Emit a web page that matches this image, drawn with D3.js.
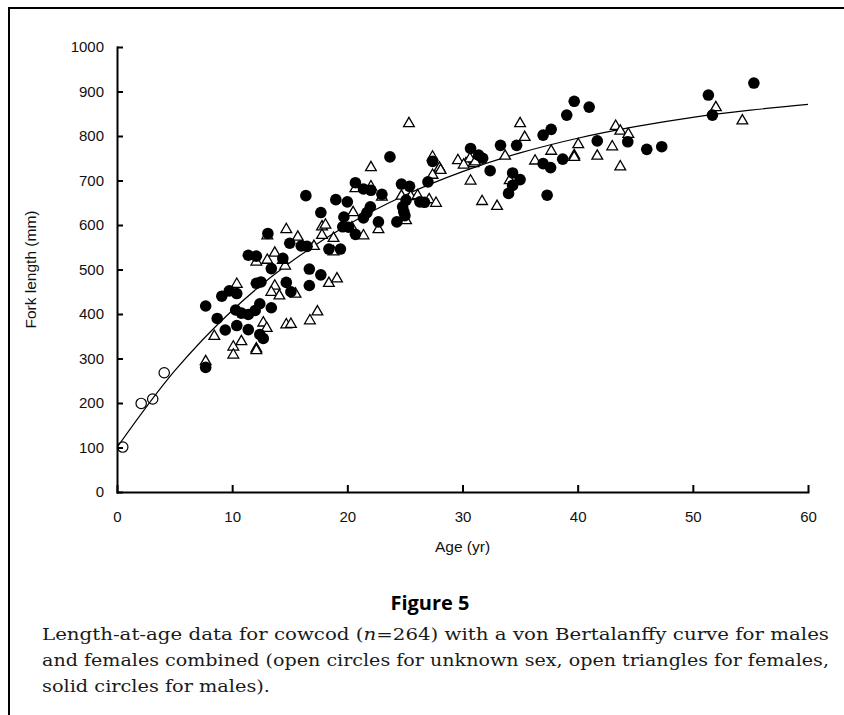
<!DOCTYPE html>
<meta charset="utf-8">
<style>
body { margin: 0; background: #fff; }
.axis path, .axis line { stroke: #000; stroke-width: 2px; }
.curve { fill: none; stroke: #000; stroke-width: 1.2px; }
</style>
<body>
<script src="https://d3js.org/d3.v7.min.js"></script>
<script>

// ---------- data ----------
// unknown sex (open circles)
var unkAge = [0.5, 2.1, 3.1, 4.1];
var unkLen = [101, 199, 209, 268];

// males (solid circles)
var maleAge = [7.7, 7.7, 8.7, 9.1, 9.75, 10.4, 9.4, 10.3, 10.4, 10.8, 11.4, 11.4, 11.4, 12.1, 12.0, 12.4, 12.1, 12.5, 12.4, 12.7,
  13.4, 13.4, 14.4, 14.7, 15.1, 15.0, 13.1, 16.0, 16.5, 16.7, 16.7, 17.7, 18.4, 19.4, 16.4, 17.7, 19.0, 20.0, 19.7, 19.6,
  20.1, 20.7, 20.7, 21.4, 22.05, 23.0, 23.7, 21.4, 21.7, 22.0, 22.7, 24.3, 25.0, 24.7, 25.4, 25.1, 24.8, 24.9, 26.3, 26.7,
  27.0, 27.4, 30.7, 31.4, 31.75, 32.4, 33.3, 34.7, 34.35, 35.0, 34.35, 34.0, 37.0, 37.65, 37.0, 37.7, 37.35, 38.7, 39.05, 39.7,
  41.0, 41.7, 44.35, 46.0, 47.3, 51.35, 51.7, 55.3];
var maleLen = [418, 280, 390, 440, 452, 446, 364, 409, 374, 402, 399, 365, 532, 530, 408, 423, 469, 472, 354, 345,
  414, 502, 525, 471, 450, 559, 581, 553, 552, 501, 464, 488, 546, 546, 666, 628, 657, 652, 618, 596,
  595, 579, 695, 681, 678, 669, 753, 616, 628, 641, 607, 607, 621, 692, 687, 656, 641, 630, 652, 651,
  697, 743, 772, 757, 750, 722, 779, 779, 717, 702, 689, 671, 738, 729, 802, 815, 667, 748, 847, 878,
  865, 789, 787, 770, 776, 892, 847, 919];

// females (open triangles)
var femAge = [7.7, 8.45, 10.4, 10.1, 10.1, 10.8, 12.1, 12.1, 12.1, 12.7, 13.0, 13.05, 13.7, 13.7, 13.4, 14.1, 14.6, 14.4, 15.5, 13.05,
  14.7, 15.7, 17.1, 14.7, 15.1, 16.75, 17.4, 18.4, 19.1, 18.8, 18.8, 17.8, 18.1, 17.8, 20.5, 20.4, 21.4, 20.7, 22.05, 22.05,
  23.0, 22.7, 25.1, 24.7, 25.5, 26.1, 27.1, 27.7, 27.4, 28.0, 28.1, 27.4, 29.6, 30.7, 30.3, 30.95, 30.65, 30.1, 31.1, 31.7,
  33.0, 33.7, 35.0, 35.4, 34.1, 36.3, 37.7, 39.7, 39.7, 40.05, 41.7, 43.0, 43.3, 43.7, 44.4, 43.7, 52.0, 54.3, 25.35];
var femLen = [293, 350, 467, 326, 308, 338, 517, 322, 318, 380, 368, 521, 537, 463, 449, 441, 508, 521, 445, 576,
  590, 573, 552, 376, 377, 385, 405, 469, 479, 540, 570, 596, 600, 577, 628, 594, 576, 682, 686, 729,
  663, 590, 610, 665, 664, 666, 657, 649, 753, 728, 723, 712, 745, 699, 738, 738, 749, 735, 742, 653,
  642, 755, 828, 797, 700, 744, 766, 756, 752, 781, 755, 776, 822, 811, 804, 731, 864, 834, 828];

// von Bertalanffy curve, read every 5 years
var curveAge = [0, 5, 10, 15, 20, 25, 30, 35, 40, 45, 50, 55, 60];
var curveLen = [100, 272, 408, 515, 600, 667, 720, 762, 795, 821, 842, 858, 871];

var xTicks = [0, 10, 20, 30, 40, 50, 60];
var yTicks = [0, 100, 200, 300, 400, 500, 600, 700, 800, 900, 1000];

// ---------- layout ----------
var margin = {top: 47, left: 117},
    width = 691,
    height = 445;

var sans = "'Liberation Sans', Arial, sans-serif";

var svg = d3.select("body").append("svg")
    .attr("width", 844)
    .attr("height", 715);

// frame round the figure
svg.append("rect")
    .attr("x", 9).attr("y", 8)
    .attr("width", 900).attr("height", 800)
    .attr("fill", "none").attr("stroke", "#000").attr("stroke-width", 2);

var g = svg.append("g")
    .attr("transform", "translate(" + margin.left + "," + margin.top + ")");

var x = d3.scaleLinear().domain([0, 60]).range([0, width]);
var y = d3.scaleLinear().domain([0, 1000]).range([height, 0]);

// axes, ticks pointing inward
var xAxis = g.append("g")
    .attr("class", "axis")
    .attr("transform", "translate(0," + height + ")")
    .call(d3.axisBottom(x).tickValues(xTicks).tickFormat(d3.format("d"))
        .tickSizeInner(-7).tickSizeOuter(0).tickPadding(19));

var yAxis = g.append("g")
    .attr("class", "axis")
    .call(d3.axisLeft(y).tickValues(yTicks).tickFormat(d3.format("d"))
        .tickSizeInner(-6).tickSizeOuter(0).tickPadding(13));

g.selectAll(".axis text")
    .style("font-family", sans)
    .style("font-size", "15px")
    .style("fill", "#111");

g.selectAll(".axis .domain").attr("stroke-linecap", "square");

// axis titles
g.append("text")
    .attr("x", width / 2).attr("y", 505)
    .attr("text-anchor", "middle")
    .style("font-family", sans)
    .style("font-size", "15.5px")
    .style("fill", "#111")
    .text("Age (yr)");

g.append("text")
    .attr("transform", "translate(-81," + (height / 2) + ") rotate(-90)")
    .attr("text-anchor", "middle")
    .style("font-family", sans)
    .style("font-size", "15.5px")
    .style("fill", "#111")
    .text("Fork length (mm)");

// fitted curve
var curvePts = curveAge.map(function(a, i) { return [a, curveLen[i]]; });
g.append("path")
    .attr("class", "curve")
    .attr("d", d3.line()
        .x(function(d) { return x(d[0]); })
        .y(function(d) { return y(d[1]); })
        .curve(d3.curveCatmullRom)(curvePts));

// females first, males on top
var fem = femAge.map(function(a, i) { return {age: a, len: femLen[i]}; });
var male = maleAge.map(function(a, i) { return {age: a, len: maleLen[i]}; });
var unk = unkAge.map(function(a, i) { return {age: a, len: unkLen[i]}; });

g.selectAll(".fem").data(fem).enter().append("path")
    .attr("class", "fem")
    .attr("d", d3.symbol().type(d3.symbolTriangle).size(50))
    .attr("transform", function(d) { return "translate(" + x(d.age) + "," + y(d.len) + ")"; })
    .attr("fill", "#fff").attr("stroke", "#000").attr("stroke-width", 1.3);

g.selectAll(".male").data(male).enter().append("circle")
    .attr("class", "male")
    .attr("cx", function(d) { return x(d.age); })
    .attr("cy", function(d) { return y(d.len); })
    .attr("r", 5.8)
    .attr("fill", "#000");

g.selectAll(".unk").data(unk).enter().append("circle")
    .attr("class", "unk")
    .attr("cx", function(d) { return x(d.age); })
    .attr("cy", function(d) { return y(d.len); })
    .attr("r", 5.2)
    .attr("fill", "none").attr("stroke", "#000").attr("stroke-width", 1.2);

// caption
svg.append("text")
    .attr("x", 430).attr("y", 610)
    .attr("text-anchor", "middle")
    .style("font-family", "'Open Sans', sans-serif")
    .style("font-weight", "bold")
    .style("font-size", "20px")
    .text("Figure 5");

var cap = svg.append("g")
    .style("font-family", "'DejaVu Serif', serif")
    .style("font-size", "17px")
    .style("fill", "#1a1a1a");

var l1 = cap.append("text").attr("x", 42).attr("y", 640)
    .attr("textLength", 787).attr("lengthAdjust", "spacingAndGlyphs");
l1.append("tspan").text("Length-at-age data for cowcod (");
l1.append("tspan").style("font-style", "italic").text("n");
l1.append("tspan").text("=264) with a von Bertalanffy curve for males");

cap.append("text").attr("x", 42).attr("y", 666)
    .attr("textLength", 787).attr("lengthAdjust", "spacingAndGlyphs")
    .text("and females combined (open circles for unknown sex, open triangles for females,");

cap.append("text").attr("x", 42).attr("y", 692)
    .attr("textLength", 228).attr("lengthAdjust", "spacingAndGlyphs")
    .text("solid circles for males).");

</script>
</body>
